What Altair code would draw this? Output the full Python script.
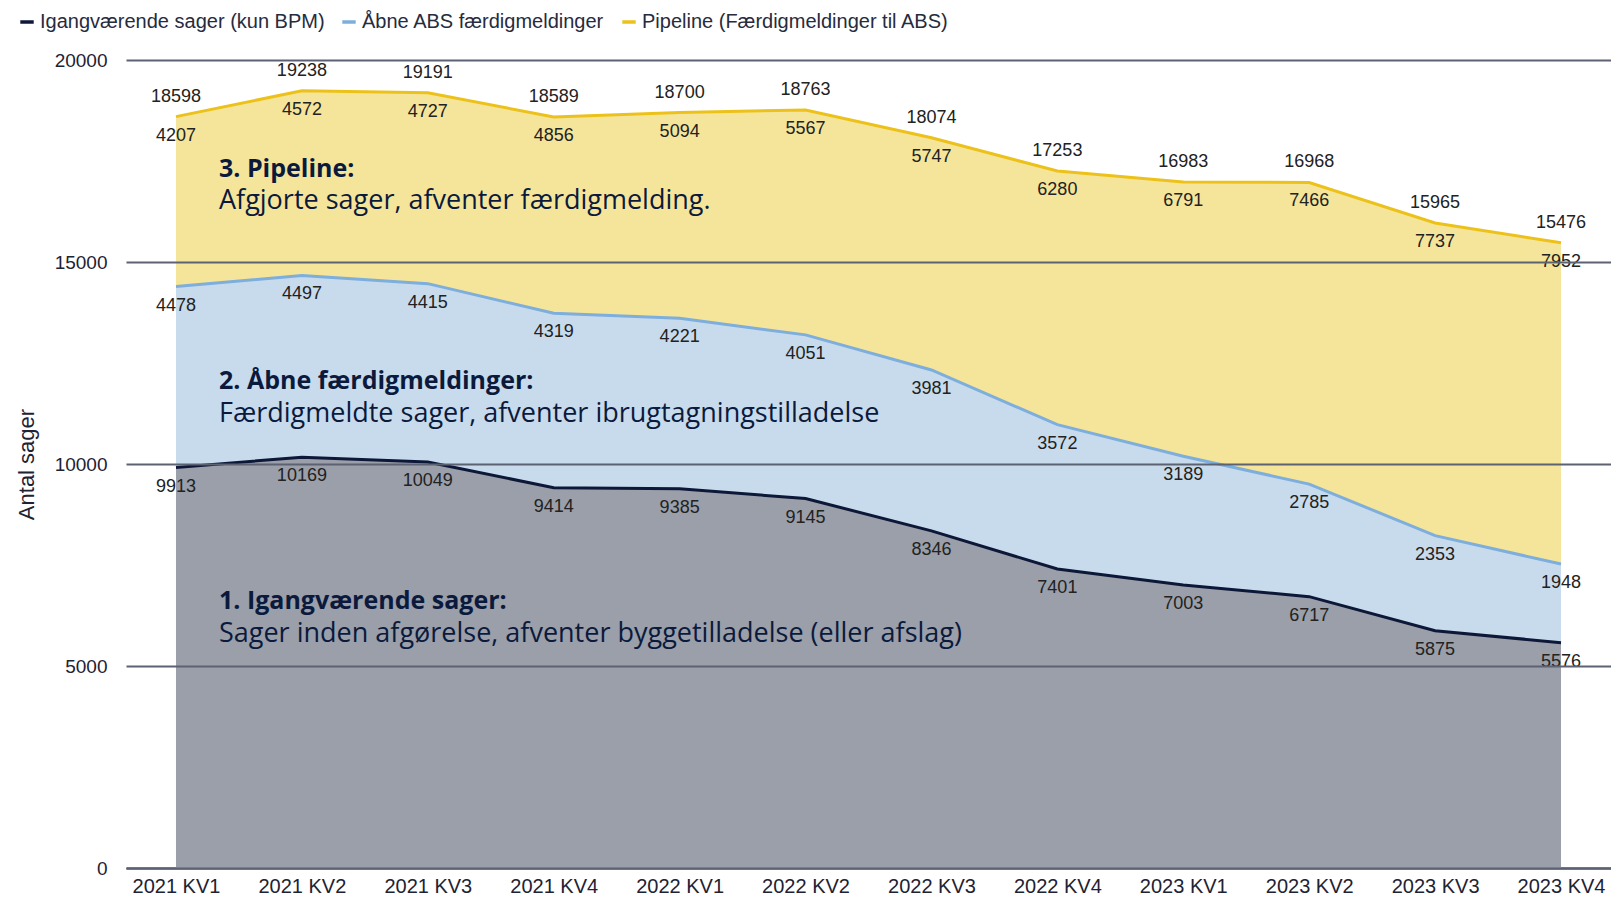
import altair as alt
import pandas as pd

quarters = ["2021 KV1", "2021 KV2", "2021 KV3", "2021 KV4", "2022 KV1", "2022 KV2",
            "2022 KV3", "2022 KV4", "2023 KV1", "2023 KV2", "2023 KV3", "2023 KV4"]
igang = [9913, 10169, 10049, 9414, 9385, 9145, 8346, 7401, 7003, 6717, 5875, 5576]
aabne = [4478, 4497, 4415, 4319, 4221, 4051, 3981, 3572, 3189, 2785, 2353, 1948]
pipeline = [4207, 4572, 4727, 4856, 5094, 5567, 5747, 6280, 6791, 7466, 7737, 7952]

series_names = ["Igangværende sager (kun BPM)", "Åbne ABS færdigmeldinger", "Pipeline (Færdigmeldinger til ABS)"]
fill_keys = ["igang", "aabne", "pipeline"]
line_colors = ["#0d1838", "#7eaedb", "#ecc21a"]
fill_colors = ["#9a9fa9", "#c8dbed", "#f5e59b"]

ann_titles = ["3. Pipeline:", "2. Åbne færdigmeldinger:", "1. Igangværende sager:"]
ann_descs = ["Afgjorte sager, afventer færdigmelding.",
             "Færdigmeldte sager, afventer ibrugtagningstilladelse",
             "Sager inden afgørelse, afventer byggetilladelse (eller afslag)"]
ann_title_y = [17300, 12050, 6600]
ann_desc_y = [16500, 11250, 5800]

rows = []
for i, q in enumerate(quarters):
    lower = 0
    for name, key, vals in zip(series_names, fill_keys, [igang, aabne, pipeline]):
        v = vals[i]
        rows.append({"quarter": q, "series": name, "fillkey": key, "value": v,
                     "lower": lower, "upper": lower + v,
                     "total": igang[i] + aabne[i] + pipeline[i]})
        lower += v
df = pd.DataFrame(rows)

ann = pd.DataFrame({"quarter": [quarters[0]] * 3, "title": ann_titles, "desc": ann_descs,
                    "ty": ann_title_y, "dy_": ann_desc_y})

xscale = alt.Scale(type="point", domain=quarters, padding=0.397)
yscale = alt.Scale(domain=[0, 20000], nice=False)

x_enc = alt.X("quarter:N", sort=quarters, scale=xscale, title=None,
              axis=alt.Axis(labelAngle=0, labelFontSize=20, labelColor="#1e2233",
                            domainColor="#0d1838", domainWidth=2, ticks=False,
                            grid=False, labelPadding=8))

base = alt.Chart(df)

area = base.mark_area().encode(
    x=x_enc,
    y=alt.Y("upper:Q", scale=yscale,
            axis=alt.Axis(values=[0, 5000, 10000, 15000, 20000], format="d", grid=True,
                          gridColor="#5d6272", gridWidth=2, domain=False, ticks=False,
                          labelFontSize=19, labelColor="#1e2233", labelPadding=19,
                          zindex=1, title="Antal sager", titleFontSize=22,
                          titleFontWeight="normal", titleColor="#1e2233",
                          titleX=-100, titleY=404, titleAngle=-90,
                          titleBaseline="middle", titleAlign="center")),
    y2="lower:Q",
    fill=alt.Fill("fillkey:N", scale=alt.Scale(domain=fill_keys, range=fill_colors), legend=None),
)

line = base.mark_line(strokeWidth=3).encode(
    x=x_enc,
    y=alt.Y("upper:Q", scale=yscale),
    stroke=alt.Stroke("series:N", scale=alt.Scale(domain=series_names, range=line_colors),
                      legend=alt.Legend(title=None, orient="none", legendX=-109, legendY=-48,
                                        direction="horizontal", symbolType="stroke",
                                        symbolStrokeWidth=3.5, symbolSize=180,
                                        labelFontSize=20, labelColor="#262b3d", labelLimit=0,
                                        labelOffset=3, columnPadding=10)),
)

seg_labels = base.mark_text(dy=19, fontSize=18, color="#222222", baseline="middle").encode(
    x=x_enc, y=alt.Y("upper:Q", scale=yscale), text="value:Q")

tot_labels = base.transform_filter(alt.datum.fillkey == "pipeline").mark_text(
    dy=-20, fontSize=18, color="#222222", baseline="middle").encode(
    x=x_enc, y=alt.Y("upper:Q", scale=yscale), text="total:Q")

ann_base = alt.Chart(ann)
ann_t = ann_base.mark_text(align="left", baseline="middle", dx=43, font="Open Sans",
                           fontSize=25, fontWeight="bold", color="#0b1a3c").encode(
    x=x_enc, y=alt.Y("ty:Q", scale=yscale), text="title:N")
ann_d = ann_base.mark_text(align="left", baseline="middle", dx=43, font="Open Sans",
                           fontSize=27, color="#0b1a3c").encode(
    x=x_enc, y=alt.Y("dy_:Q", scale=yscale), text="desc:N")

chart = alt.layer(area, line, seg_labels, tot_labels, ann_t, ann_d).properties(
    width=1485, height=808,
    autosize=alt.AutoSizeParams(type="none"),
    padding={"left": 118, "top": 52, "right": 0, "bottom": 30},
).configure(font="Liberation Sans").configure_view(stroke=None)

chart.save("out.html", embed_options={"renderer": "svg", "actions": False})
